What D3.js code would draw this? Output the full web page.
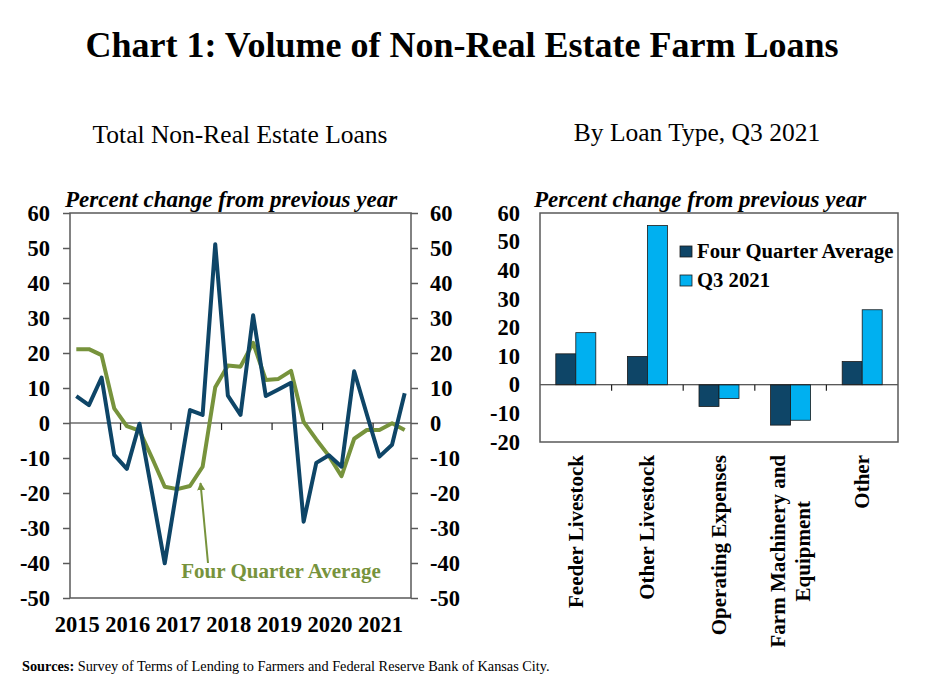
<!DOCTYPE html>
<html><head><meta charset="utf-8">
<script src="https://cdn.jsdelivr.net/npm/d3@7"></script>
<style>body{margin:0;background:#fff}svg{display:block}text{font-family:"Liberation Serif","Times New Roman",serif}</style>
</head><body>
<svg id="c" width="925" height="693"></svg>
<script>
const quarters = ["2015Q1","2015Q2","2015Q3","2015Q4","2016Q1","2016Q2","2016Q3","2016Q4","2017Q1","2017Q2","2017Q3","2017Q4","2018Q1","2018Q2","2018Q3","2018Q4","2019Q1","2019Q2","2019Q3","2019Q4","2020Q1","2020Q2","2020Q3","2020Q4","2021Q1","2021Q2","2021Q3"];
const totalLoans = [7.7,5.1,13,-9.1,-13.1,-0.2,-20,-40.1,-18,3.7,2.3,51.1,7.8,2.3,30.8,7.7,9.6,11.5,-28.2,-11.4,-9.2,-12.5,14.8,2.5,-9.6,-6.2,8.5];
const fourQtrAvg = [21.1,21.1,19.4,4.2,-0.9,-2.2,-10,-18.2,-18.9,-18,-12.5,10.2,16.4,16.1,22.9,12.3,12.6,14.9,0.3,-4.7,-9.4,-15.2,-4.5,-2,-2,-0.1,-2];
const yearLabels = ["2015","2016","2017","2018","2019","2020","2021"];
const leftTicks = [-50,-40,-30,-20,-10,0,10,20,30,40,50,60];

const loanTypes = ["Feeder Livestock","Other Livestock","Operating Expenses","Farm Machinery and|Equipment","Other"];
const typeFourQtr = [10.8,9.9,-7.6,-14.1,8.1];
const typeQ3 = [18.2,55.6,-4.8,-12.4,26.2];
const seriesNames = ["Four Quarter Average","Q3 2021"];
const rightTicks = [-20,-10,0,10,20,30,40,50,60];

const NAVY = "#0e4567", GREEN = "#77933c", LIGHT = "#00b0f0", AXIS = "#595959";
const FS = 22.5;
const svg = d3.select("#c");

// Title
svg.append("text").attr("x",462).attr("y",57).attr("text-anchor","middle")
  .attr("font-size",36).attr("font-weight","bold").text("Chart 1: Volume of Non-Real Estate Farm Loans");
svg.append("text").attr("x",240).attr("y",143).attr("text-anchor","middle")
  .attr("font-size",25.5).text("Total Non-Real Estate Loans");
svg.append("text").attr("x",697).attr("y",141).attr("text-anchor","middle")
  .attr("font-size",25.5).text("By Loan Type, Q3 2021");

// ---------- Left chart ----------
const L = {x0:70, x1:411, y0:213, y1:598};
const xq = d3.scaleBand().domain(quarters).range([L.x0, L.x1]).padding(0);
const yl = d3.scaleLinear().domain([-50,60]).range([L.y1, L.y0]);
const gl = svg.append("g");

svg.append("text").attr("x",65).attr("y",207).attr("font-size",23).attr("font-weight","bold")
  .attr("font-style","italic").text("Percent change from previous year");

gl.append("g").attr("transform",`translate(${L.x0},0)`)
  .call(d3.axisLeft(yl).tickValues(leftTicks).tickSize(7).tickFormat(d=>d).tickPadding(13))
  .call(g=>{g.select(".domain").remove();});
gl.append("g").attr("transform",`translate(${L.x1},0)`)
  .call(d3.axisRight(yl).tickValues(leftTicks).tickSize(7).tickFormat(d=>d).tickPadding(12))
  .call(g=>{g.select(".domain").remove();});
gl.selectAll(".tick line").attr("stroke",AXIS).attr("stroke-width",1.5);
gl.selectAll(".tick text").attr("font-size",FS).attr("font-weight","bold").attr("fill","#000")
  .attr("font-family","Liberation Serif, Times New Roman, serif");

// zero line + year boundary ticks
gl.append("line").attr("x1",L.x0).attr("x2",L.x1).attr("y1",yl(0)).attr("y2",yl(0))
  .attr("stroke","#222").attr("stroke-width",1.2);
const boundaryQ = quarters.filter((q,i)=>i>0 && q.endsWith("Q1"));
gl.selectAll(".yb").data(boundaryQ).join("line")
  .attr("x1",d=>xq(d)).attr("x2",d=>xq(d)).attr("y1",yl(0)).attr("y2",yl(0)+7)
  .attr("stroke","#222").attr("stroke-width",1.2);
gl.selectAll(".yl").data(yearLabels).join("text")
  .attr("x",d=>xq(d+"Q1")+xq.bandwidth()/2+1).attr("y",632).attr("text-anchor","middle")
  .attr("font-size",FS).attr("font-weight","bold").text(d=>d);

const lineGen = arr => d3.line().x((d,i)=>xq(quarters[i])+xq.bandwidth()/2).y(d=>yl(d))(arr);
gl.append("path").attr("d",lineGen(fourQtrAvg)).attr("fill","none").attr("stroke",GREEN)
  .attr("stroke-width",4).attr("stroke-linejoin","round");
gl.append("path").attr("d",lineGen(totalLoans)).attr("fill","none").attr("stroke",NAVY)
  .attr("stroke-width",4).attr("stroke-linejoin","round");

gl.append("rect").attr("x",L.x0).attr("y",L.y0).attr("width",L.x1-L.x0).attr("height",L.y1-L.y0)
  .attr("fill","none").attr("stroke",AXIS).attr("stroke-width",1.5);

// annotation
const defs = svg.append("defs");
defs.append("marker").attr("id","arr").attr("viewBox","0 0 10 10").attr("refX",9).attr("refY",5)
  .attr("markerWidth",4).attr("markerHeight",4).attr("orient","auto")
  .append("path").attr("d","M0,0L10,5L0,10z").attr("fill",GREEN);
gl.append("line").attr("x1",208).attr("y1",563).attr("x2",200.5).attr("y2",483)
  .attr("stroke",GREEN).attr("stroke-width",2).attr("marker-end","url(#arr)");
gl.append("text").attr("x",281).attr("y",578).attr("text-anchor","middle").attr("font-size",21)
  .attr("font-weight","bold").attr("fill",GREEN).text("Four Quarter Average");

// ---------- Right chart ----------
const R = {x0:540, x1:898, y0:213, y1:442};
const xc = d3.scaleBand().domain(loanTypes).range([R.x0,R.x1]).padding(0);
const xs = d3.scaleBand().domain(seriesNames).range([0,40]);
const yr = d3.scaleLinear().domain([-20,60]).range([R.y1,R.y0]);
const gr = svg.append("g");

svg.append("text").attr("x",534).attr("y",207).attr("font-size",23).attr("font-weight","bold")
  .attr("font-style","italic").text("Percent change from previous year");

gr.append("g").attr("transform",`translate(${R.x0},0)`)
  .call(d3.axisLeft(yr).tickValues(rightTicks).tickSize(0).tickFormat(d=>d).tickPadding(20))
  .call(g=>g.select(".domain").remove())
  .selectAll("text").attr("font-size",FS).attr("font-weight","bold").attr("fill","#000")
  .attr("font-family","Liberation Serif, Times New Roman, serif");

const vals = [typeFourQtr, typeQ3], cols = [NAVY, LIGHT];
seriesNames.forEach((s,si)=>{
  gr.selectAll(".b"+si).data(loanTypes).join("rect")
    .attr("x",d=>xc(d)+xc.bandwidth()/2-20+xs(s))
    .attr("width",xs.bandwidth())
    .attr("y",(d,i)=>yr(Math.max(0,vals[si][i])))
    .attr("height",(d,i)=>Math.abs(yr(vals[si][i])-yr(0)))
    .attr("fill",cols[si]).attr("stroke","#1a1a1a").attr("stroke-width",0.8);
});
gr.append("line").attr("x1",R.x0).attr("x2",R.x1).attr("y1",yr(0)).attr("y2",yr(0))
  .attr("stroke","#222").attr("stroke-width",1.2);
gr.selectAll(".ct").data(loanTypes.slice(1)).join("line")
  .attr("x1",d=>xc(d)).attr("x2",d=>xc(d)).attr("y1",yr(0)).attr("y2",yr(0)+6)
  .attr("stroke","#222").attr("stroke-width",1.2);
gr.append("rect").attr("x",R.x0).attr("y",R.y0).attr("width",R.x1-R.x0).attr("height",R.y1-R.y0)
  .attr("fill","none").attr("stroke",AXIS).attr("stroke-width",1.5);

// category labels (rotated, lines centred on each other)
loanTypes.forEach(t=>{
  const lines = t.split("|");
  const cx = xc(t)+xc.bandwidth()/2;
  const texts = lines.map((ln,li)=>{
    const bx = cx + 7 + (li - (lines.length-1)/2)*25;
    return gr.append("text").attr("font-size",21).attr("font-weight","bold").text(ln).datum(bx);
  });
  const maxLen = d3.max(texts, s=>s.node().getComputedTextLength());
  texts.forEach(s=>{
    const len = s.node().getComputedTextLength();
    const yTop = 455 + (maxLen-len)/2;
    s.attr("transform",`translate(${s.datum()},${yTop+len}) rotate(-90)`);
  });
});

// legend
const lg = gr.append("g");
seriesNames.forEach((s,i)=>{
  lg.append("rect").attr("x",680).attr("y",246+i*29).attr("width",12).attr("height",11)
    .attr("fill",cols[i]).attr("stroke","#1a1a1a").attr("stroke-width",0.8);
  lg.append("text").attr("x",697).attr("y",258+i*29).attr("font-size",20.7).attr("font-weight","bold").text(s);
});

// sources
const src = svg.append("text").attr("x",22).attr("y",671).attr("font-size",14.3);
src.append("tspan").attr("font-weight","bold").text("Sources:");
src.append("tspan").text(" Survey of Terms of Lending to Farmers and Federal Reserve Bank of Kansas City.");
</script>
</body></html>
